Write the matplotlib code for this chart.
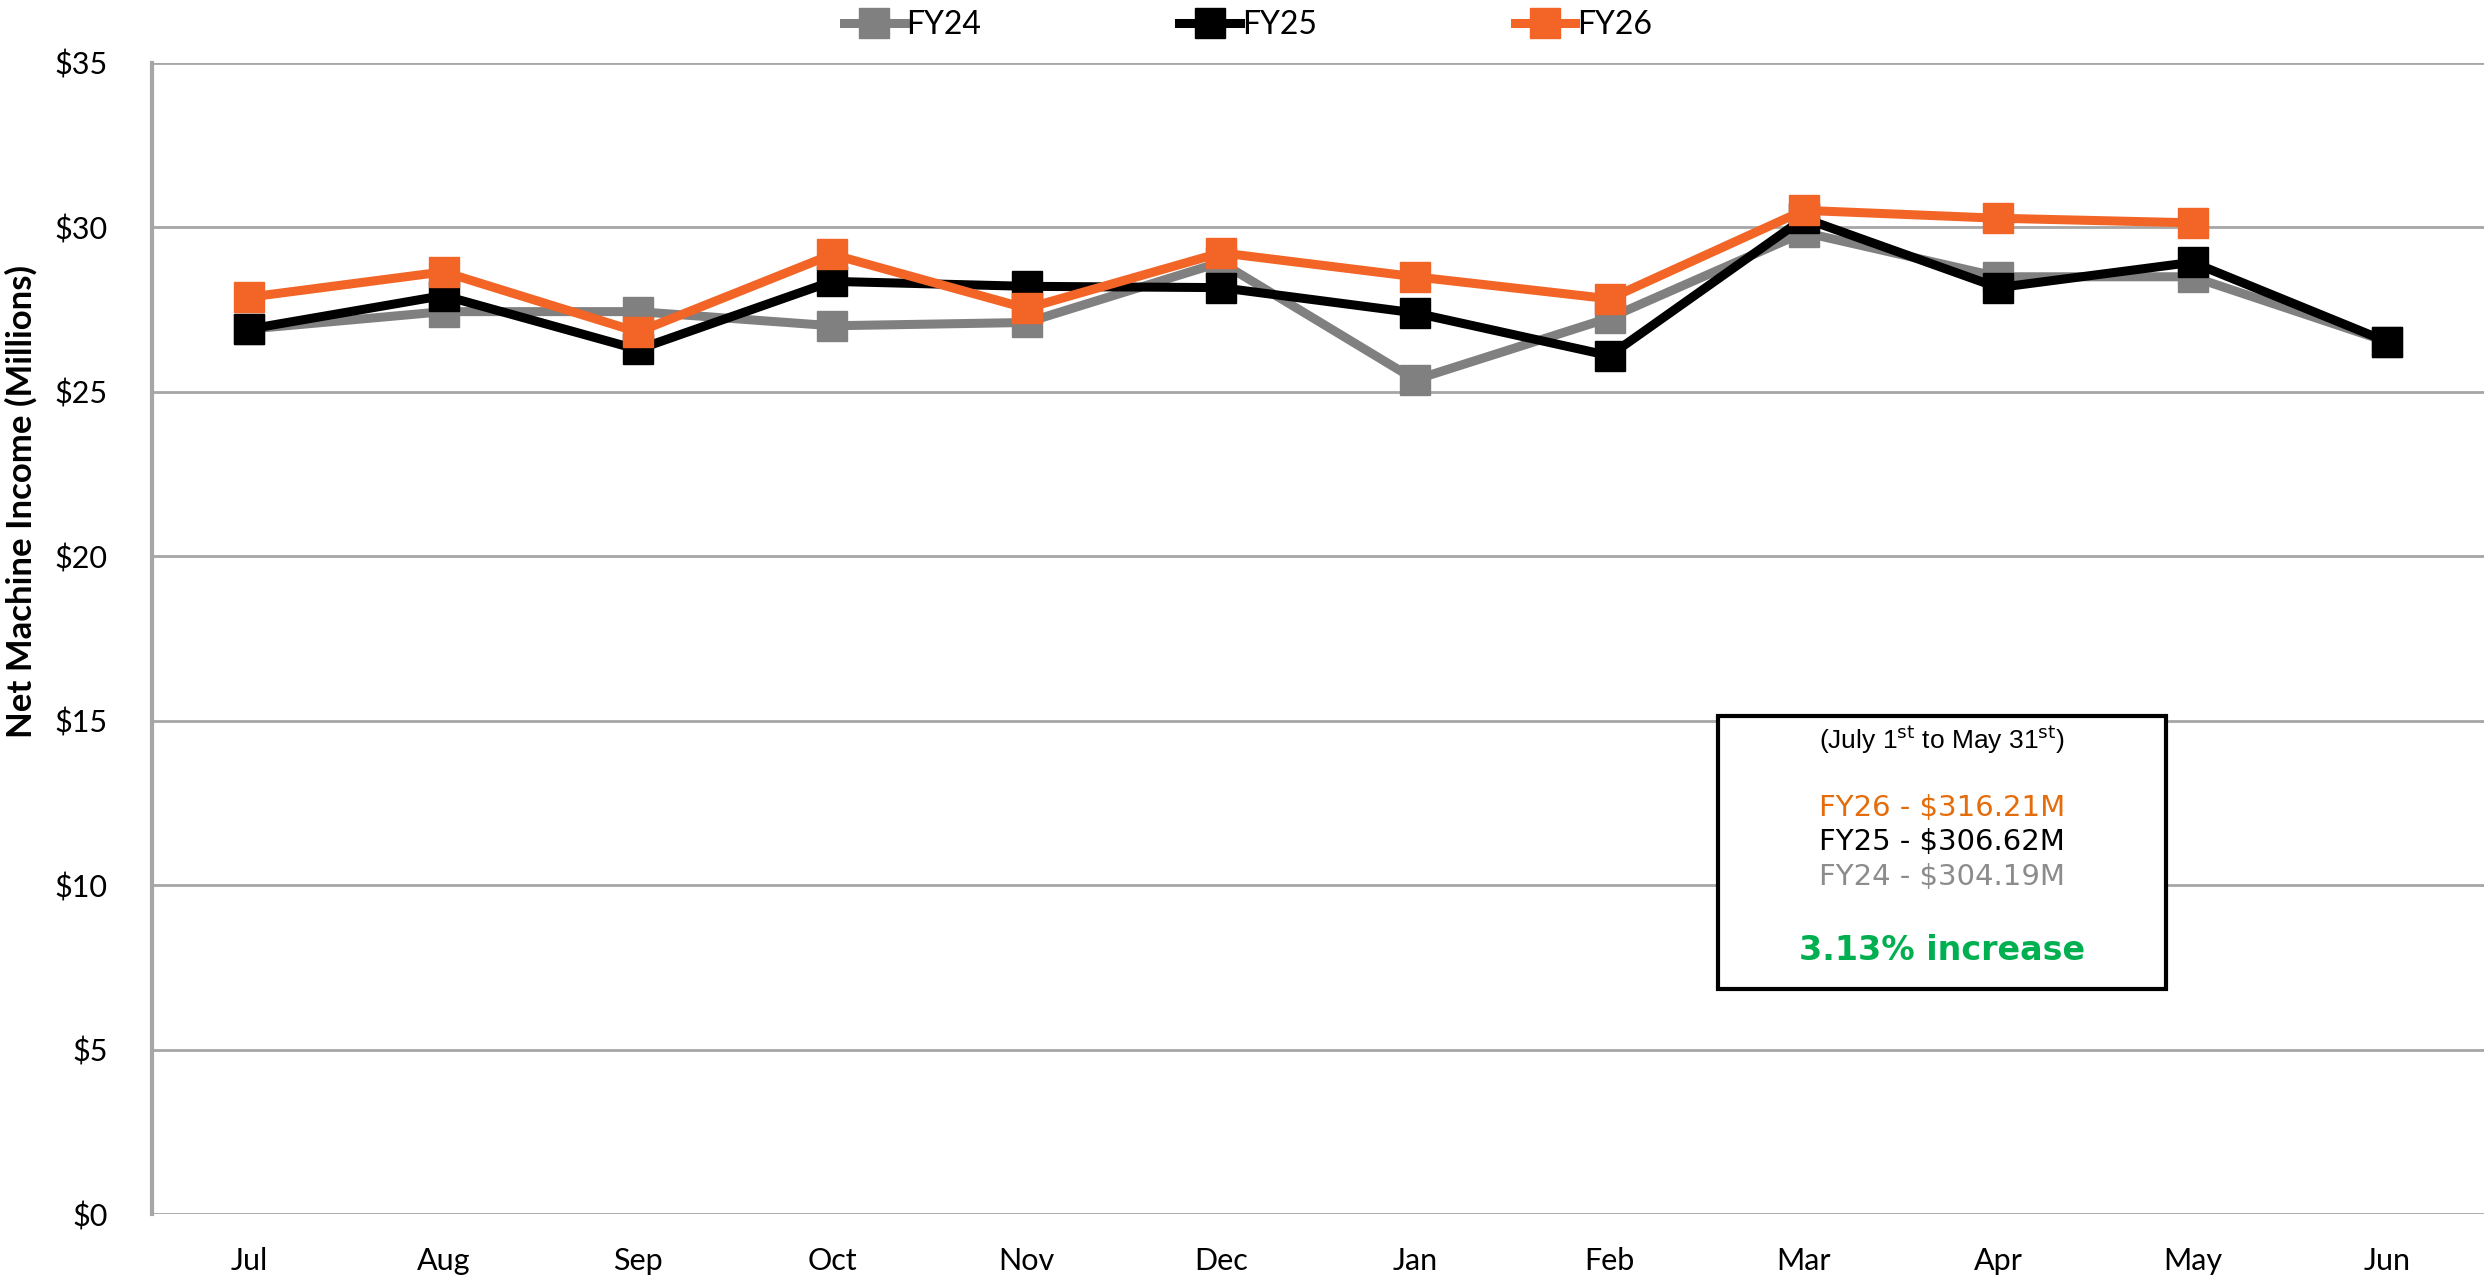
import matplotlib
matplotlib.use("Agg")
import matplotlib.pyplot as plt
from matplotlib.patches import Rectangle
from matplotlib.ticker import FuncFormatter, MultipleLocator

# Monthly net machine income, millions of dollars
months = ["Jul", "Aug", "Sep", "Oct", "Nov", "Dec", "Jan", "Feb", "Mar", "Apr", "May", "Jun"]
fy24 = [26.91, 27.44, 27.44, 27.01, 27.11, 28.94, 25.37, 27.25, 29.85, 28.50, 28.50, 26.53]
fy25 = [26.91, 27.93, 26.29, 28.36, 28.21, 28.17, 27.40, 26.10, 30.28, 28.17, 28.94, 26.53]
fy26 = [27.88, 28.65, 26.82, 29.18, 27.54, 29.23, 28.50, 27.83, 30.52, 30.28, 30.14]

# ytd summary box
box_title = r"(July 1$^{\rm st}$ to May 31$^{\rm st}$)"
box_lines = ["FY26 - $316.21M", "FY25 - $306.62M", "FY24 - $304.19M"]
box_change = "3.13% increase"

GRAY = "#808080"
BLACK = "#000000"
ORANGE = "#f26526"
FONT = ["Lato", "DejaVu Sans"]

fig = plt.figure(figsize=(24.84, 12.83), dpi=100)
ax = fig.add_axes([0.0612, 0.0537, 0.9388, 0.8972])

x = list(range(len(months)))
series = [
    {"label": "FY24", "y": fy24, "color": GRAY},
    {"label": "FY25", "y": fy25, "color": BLACK},
    {"label": "FY26", "y": fy26, "color": ORANGE},
]
for s in series:
    ax.plot(x[:len(s["y"])], s["y"], color=s["color"], label=s["label"],
            linewidth=6.5, marker="s", markersize=21, zorder=3)

ax.set_xlim(-0.5, len(months) - 0.5)
ax.set_ylim(0, 35)
ax.yaxis.set_major_locator(MultipleLocator(5))
ax.yaxis.set_major_formatter(FuncFormatter(lambda v, p: f"${v:.0f}"))
ax.set_xticks(x)
ax.set_xticklabels(months)
ax.tick_params(axis="both", length=0, labelsize=22)
ax.tick_params(axis="x", pad=24)
ax.tick_params(axis="y", pad=32)
for lbl in ax.get_xticklabels() + ax.get_yticklabels():
    lbl.set_family(FONT)

ax.grid(axis="y", color="#a6a6a6", linewidth=2, zorder=0)
for side in ["top", "right", "bottom"]:
    ax.spines[side].set_visible(False)
ax.spines["left"].set_color("#a6a6a6")
ax.spines["left"].set_linewidth(3)

ax.set_ylabel("Net Machine Income (Millions)", fontsize=25, fontweight="bold",
              family=FONT)
ax.yaxis.set_label_coords(-0.049, 0.619)

leg = ax.legend(loc="lower center", bbox_to_anchor=(0.47, 0.995), ncol=3,
                frameon=False, handlelength=1.9, handletextpad=0.05,
                columnspacing=6.2, prop={"family": FONT, "size": 23})

# summary box
bx0, bx1, by0, by1 = 0.6715, 0.8636, 0.1953, 0.4323
ax.add_patch(Rectangle((bx0, by0), bx1 - bx0, by1 - by0, transform=ax.transAxes,
                       facecolor="white", edgecolor="black", linewidth=3, zorder=4))
cx = (bx0 + bx1) / 2
ax.text(cx, 0.412, box_title, transform=ax.transAxes, ha="center", va="center",
        fontsize=19, family="Liberation Sans", zorder=5)
line_colors = ["#e46c0a", "black", "#8c8c8c"]
line_y = [0.353, 0.323, 0.293]
for txt, c, yy in zip(box_lines, line_colors, line_y):
    ax.text(cx, yy, txt, transform=ax.transAxes, ha="center", va="center",
            fontsize=21, color=c, zorder=5)
ax.text(cx, 0.229, box_change, transform=ax.transAxes, ha="center", va="center",
        fontsize=24, fontweight="bold", color="#00b050", zorder=5)

fig.savefig("out.png", dpi=100)
